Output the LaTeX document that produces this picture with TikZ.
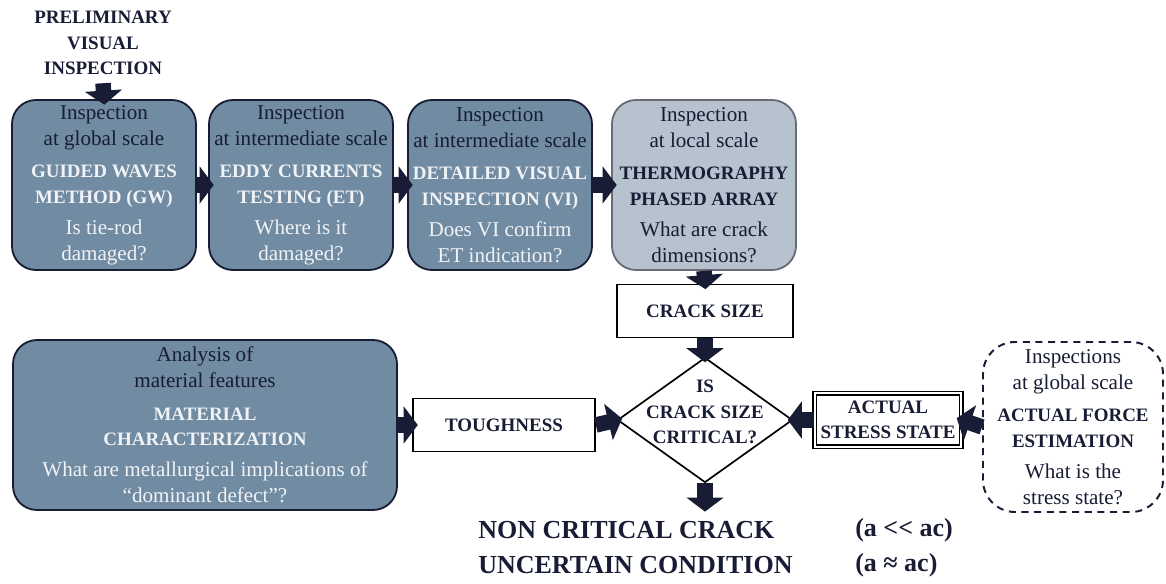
\documentclass[tikz,border=0pt]{standalone}
\usepackage{fontspec}
\setmainfont{Liberation Serif}
\usetikzlibrary{arrows.meta,shapes.geometric}
\definecolor{steel}{RGB}{112,139,162}
\definecolor{pale}{RGB}{182,194,206}
\definecolor{ink}{RGB}{24,28,52}
\definecolor{greyline}{RGB}{105,108,118}
\definecolor{lite}{RGB}{240,242,245}
\newcommand{\boxfont}{\fontsize{15}{18.2}\selectfont}
\newcommand{\capfont}{\fontsize{13.5}{18.2}\selectfont\bfseries}
\newcommand{\dk}[1]{\textcolor{ink}{#1}}
\newcommand{\bk}[1]{{\capfont #1}}
\newcommand{\wb}[1]{{\capfont\color{lite}#1}}
\newcommand{\wt}[1]{\textcolor{lite}{#1}}

\begin{document}
\begin{tikzpicture}[x=0.25cm,y=0.25cm]
\tikzstyle{every node}+=[font=\boxfont, text=ink]
\tikzstyle{darkbox}=[draw=ink, line width=1.3pt, fill=steel, rounded corners=0.6cm, minimum width=4.6cm, minimum height=4.25cm, align=center, inner sep=0pt]
\tikzstyle{palebox}=[darkbox, draw=greyline, fill=pale]
\tikzstyle{plainbox}=[draw=black, line width=1.2pt, fill=white, minimum height=1.33cm, inner sep=2pt, align=center, font=\capfont]
\tikzstyle{fat}=[draw=ink, line width=11pt, -{Triangle[width=26pt,length=10pt]}, shorten >=-4pt]
\useasboundingbox (0,0) rectangle (116.6,-58.3);
% top row
\node[align=center, font=\capfont, inner sep=0pt] (pvi) at (10.3,-4.3) {PRELIMINARY\\VISUAL\\INSPECTION};
\node[darkbox] (gw) at (10.4,-18.5) {\dk{Inspection}\\\dk{at global scale}\\[5pt]\wb{GUIDED WAVES}\\\wb{METHOD (GW)}\\[4pt]\wt{Is tie-rod}\\\wt{damaged?}};
\node[darkbox] (et) at (30.1,-18.5) {\dk{Inspection}\\\dk{at intermediate scale}\\[5pt]\wb{EDDY CURRENTS}\\\wb{TESTING (ET)}\\[4pt]\wt{Where is it}\\\wt{damaged?}};
\node[darkbox] (vi) at (50,-18.5) {\dk{Inspection}\\\dk{at intermediate scale}\\[5pt]\wb{DETAILED VISUAL}\\\wb{INSPECTION (VI)}\\[4pt]\wt{Does VI confirm}\\\wt{ET indication?}};
\node[palebox] (loc) at (70.4,-18.5) {Inspection\\at local scale\\[5pt]\bk{THERMOGRAPHY}\\\bk{PHASED ARRAY}\\[4pt]What are crack\\dimensions?};
% middle row
\node[plainbox, minimum width=4.4cm] (size) at (70.5,-31.1) {CRACK SIZE};
\node[diamond, draw=black, line width=1.2pt, fill=white, minimum width=4.375cm, minimum height=3.125cm, inner sep=0pt,
  label={[align=center, font=\capfont, yshift=0.2cm]center:IS\\CRACK SIZE\\CRITICAL?}] (crit) at (70.5,-42) {};
\node[darkbox, minimum width=9.6cm] (mat) at (20.5,-42.5) {\dk{Analysis of}\\\dk{material features}\\[5pt]\wb{MATERIAL}\\\wb{CHARACTERIZATION}\\[4pt]\wt{What are metallurgical implications of}\\\wt{``dominant defect''?}};
\node[plainbox, minimum width=4.55cm] (tough) at (50.4,-42.5) {TOUGHNESS};
\node[plainbox, double, double distance=1.3pt, line width=0.9pt, minimum width=3.67cm] (stress) at (88.8,-42) {ACTUAL\\STRESS STATE};
\node[draw=ink, dashed, dash pattern=on 5pt off 4pt, line width=1.4pt, rounded corners=0.8cm, minimum width=4.5cm, minimum height=4.25cm, align=center, inner sep=0pt] (force) at (107.3,-42.7) {Inspections\\at global scale\\[5pt]\bk{ACTUAL FORCE}\\\bk{ESTIMATION}\\[4pt]What is the\\stress state?};
% outcome
\coordinate (outc) at (70.5,-50.6);
\node[anchor=west, align=left, inner sep=0pt, font=\fontsize{18.5}{25}\selectfont\bfseries] (res) at (47.8,-54.75) {NON CRITICAL CRACK\\UNCERTAIN CONDITION};
\node[anchor=west, align=left, inner sep=0pt, font=\fontsize{18.5}{25}\selectfont\bfseries] (ratio) at (85.5,-54.75) {(a <{}< ac)\\(a ≈ ac)};
% arrows
\draw[fat] ([yshift=-0.2cm]pvi.south) -- (gw.north);
\draw[fat] (gw.east) -- (et.west);
\draw[fat] (et.east) -- (vi.west);
\draw[fat] (vi.east) -- (loc.west);
\draw[fat] (loc.south) -- (size.north);
\draw[fat] (size.south) -- (crit.north);
\draw[fat] (crit.south) -- (outc);
\draw[fat] (mat.east) -- (tough.west);
\draw[fat] (tough.east) -- (crit.west);
\draw[fat] (stress.west) -- (crit.east);
\draw[fat] (force.west) -- (stress.east);
\end{tikzpicture}
\end{document}
